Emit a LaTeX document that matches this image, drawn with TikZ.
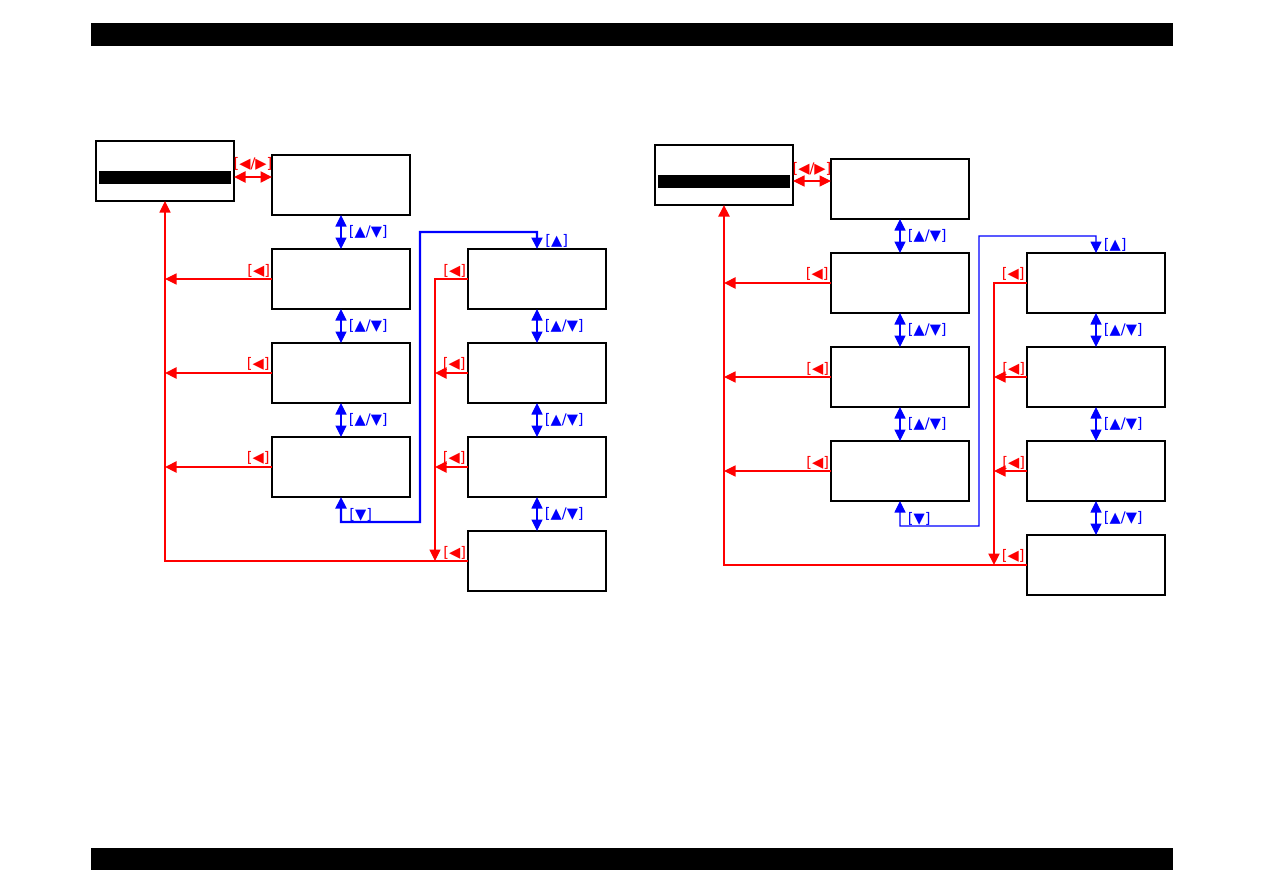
\documentclass[tikz,border=0pt]{standalone}
\usepackage{fontspec}
\newfontfamily\keyfont{DejaVu Sans}
\usetikzlibrary{arrows.meta,positioning}

\begin{document}
\begin{tikzpicture}[x=0.2mm, y=-0.2mm,
menubox/.style={draw, line width=0.7pt, minimum width=27.6mm, minimum height=12mm, inner sep=0pt, outer sep=0pt},
keylbl/.style={font=\keyfont\fontsize{8.3}{9}\selectfont, inner sep=0.8pt},
redkey/.style={keylbl, text=red},
bluekey/.style={keylbl, text=blue},
backarr/.style={draw=red, -{Triangle[length=2.3mm,width=2.2mm]}},
scrollarr/.style={draw=blue, {Triangle[length=2.3mm,width=2.2mm]}-{Triangle[length=2.3mm,width=2.2mm]}, line width=0.6pt}
]
\useasboundingbox (0,0) rectangle (1263,893);
% page bars
\fill (91,23) rectangle (1173,46);
\fill (91,848) rectangle (1173,870);

\foreach \s/\dx/\dy/\wa/\wb in {l/0/0/1.2pt/0.6pt, r/559/4/0.6pt/1.2pt}{
% Menu boxes
\node[menubox] (\s-main) at (165+\dx,171+\dy) {};
\fill ([xshift=0.6mm]\s-main.west) rectangle ([xshift=-0.6mm,yshift=-2.6mm]\s-main.east);
\node[menubox, right=7.6mm of \s-main, yshift=-2.8mm] (\s-a1) {};
\node[menubox, below=6.8mm of \s-a1] (\s-a2) {};
\node[menubox, below=6.8mm of \s-a2] (\s-a3) {};
\node[menubox, below=6.8mm of \s-a3] (\s-a4) {};
\node[menubox, right=11.6mm of \s-a2] (\s-b1) {};
\node[menubox, below=6.8mm of \s-b1] (\s-b2) {};
\node[menubox, below=6.8mm of \s-b2] (\s-b3) {};
\node[menubox, below=6.8mm of \s-b3] (\s-b4) {};

% Helper points
\coordinate (\s-m) at ([yshift=-1.2mm]\s-main.east);
\coordinate (\s-lb) at ([shift={(79,25)}]\s-a4.south);
\coordinate (\s-lt) at ([shift={(-117,-17)}]\s-b1.north);
\coordinate (\s-xi) at ([xshift=-6.6mm]\s-b1.west);

% Scroll keys
\draw[red, line width=\wa, {Triangle[length=2.3mm,width=2.2mm]}-{Triangle[length=2.3mm,width=2.2mm]}] (\s-m) -- (\s-m -| \s-a1.west) node[midway, above, yshift=0.8mm, redkey] {[◀/▶]};
\draw[scrollarr] (\s-a1) -- (\s-a2) node[midway, right, xshift=1.2mm, bluekey] {[▲/▼]};
\draw[scrollarr] (\s-a2) -- (\s-a3) node[midway, right, xshift=1.2mm, bluekey] {[▲/▼]};
\draw[scrollarr] (\s-a3) -- (\s-a4) node[midway, right, xshift=1.2mm, bluekey] {[▲/▼]};
\draw[scrollarr] (\s-b1) -- (\s-b2) node[midway, right, xshift=1.2mm, bluekey] {[▲/▼]};
\draw[scrollarr] (\s-b2) -- (\s-b3) node[midway, right, xshift=1.2mm, bluekey] {[▲/▼]};
\draw[scrollarr] (\s-b3) -- (\s-b4) node[midway, right, xshift=1.2mm, bluekey] {[▲/▼]};
\draw[scrollarr, line width=\wa] (\s-a4.south) |- (\s-lb) node[pos=0.35, right, xshift=1.2mm, bluekey] {[▼]}
  -- (\s-lt) -| (\s-b1.north) node[pos=0.75, right, xshift=1.2mm, bluekey] {[▲]};

% Back keys
\draw[backarr, line width=\wb] (\s-a2.west) -- (\s-a2.west -| \s-main.south) node[pos=0, above left, redkey] {[◀]};
\draw[backarr, line width=\wa] (\s-a3.west) -- (\s-a3.west -| \s-main.south) node[pos=0, above left, redkey] {[◀]};
\draw[backarr, line width=\wa] (\s-a4.west) -- (\s-a4.west -| \s-main.south) node[pos=0, above left, redkey] {[◀]};
\draw[backarr, line width=\wb] (\s-b4.west) -| (\s-main.south) node[pos=0, above left, redkey] {[◀]};
\draw[backarr, line width=\wb] (\s-b1.west) -| (\s-b4.west -| \s-xi) node[pos=0, above left, redkey] {[◀]};
\draw[backarr, line width=\wa] (\s-b2.west) -- (\s-b2.west -| \s-xi) node[pos=0, above left, redkey] {[◀]};
\draw[backarr, line width=\wa] (\s-b3.west) -- (\s-b3.west -| \s-xi) node[pos=0, above left, redkey] {[◀]};
}
\end{tikzpicture}
\end{document}
